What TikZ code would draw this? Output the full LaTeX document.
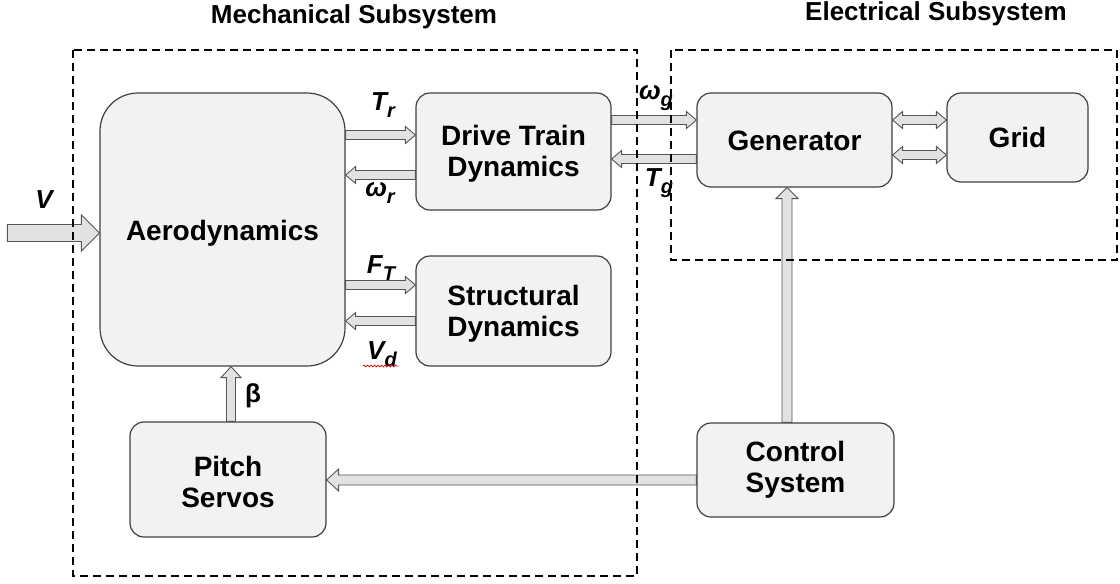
\documentclass[tikz,border=0pt]{standalone}
\usepackage{fontspec}
\setmainfont{Liberation Sans}
\usetikzlibrary{calc,decorations.pathmorphing}

\definecolor{boxfill}{HTML}{F2F2F2}
\definecolor{boxline}{HTML}{404040}
\definecolor{arfill}{HTML}{E2E2E2}
\definecolor{arline}{HTML}{555555}

\newcommand\boxfont{\fontsize{28}{31}\selectfont\bfseries}
% lower a line of text without changing its reported size
\newcommand\dn[2]{\raisebox{-#1}[\height][\depth]{#2}}
\newcommand\lbl[2]{\fontsize{26}{26}\selectfont\bfseries\itshape #1\raisebox{-7pt}{\fontsize{20}{20}\selectfont #2}}

% single-headed block arrow: start, tip, shaft half-width, head half-width, head length
\newcommand\sgl[5]{%
  \coordinate (ah) at ($(#2)!#5!(#1)$);
  \draw[blockar] ($(#1)!#3!90:(#2)$) -- ($(ah)!#3!90:(#2)$) -- ($(ah)!#4!90:(#2)$) -- (#2)
    -- ($(ah)!#4!-90:(#2)$) -- ($(ah)!#3!-90:(#2)$) -- ($(#1)!#3!-90:(#2)$) -- cycle;}
% double-headed block arrow
\newcommand\dbl[5]{%
  \coordinate (ha) at ($(#1)!#5!(#2)$);
  \coordinate (hb) at ($(#2)!#5!(#1)$);
  \draw[blockar] (#1) -- ($(ha)!#4!90:(#2)$) -- ($(ha)!#3!90:(#2)$) -- ($(hb)!#3!90:(#2)$)
    -- ($(hb)!#4!90:(#2)$) -- (#2) -- ($(hb)!#4!-90:(#2)$) -- ($(hb)!#3!-90:(#2)$)
    -- ($(ha)!#3!-90:(#2)$) -- ($(ha)!#4!-90:(#2)$) -- cycle;}

\tikzset{
  blk/.style={draw=boxline, fill=boxfill, line width=1.2pt, rounded corners=14pt,
    align=center, font=\boxfont, inner sep=0pt},
  blockar/.style={draw=arline, fill=arfill, line width=0.9pt, line join=miter},
  subsys/.style={draw=black, line width=2pt, dash pattern=on 8pt off 5pt},
  title/.style={font=\fontsize{26}{26}\selectfont\bfseries, inner sep=0pt},
  lab/.style={inner sep=0pt},
}

\begin{document}
\begin{tikzpicture}[x=1pt,y=-1pt]
\useasboundingbox (0,0) rectangle (1120,584);

% blocks
\node[blk, rounded corners=38pt, minimum width=245pt, minimum height=273pt] (aero) at (222.5,229.5) {\dn{4pt}{Aerodynamics}};
\node[blk, minimum width=195pt, minimum height=117pt] (drive) at (513.5,151.5) {\dn{2.5pt}{Drive Train}\\\dn{2.5pt}{Dynamics}};
\node[blk, minimum width=195pt, minimum height=110pt] (struct) at (513.5,311) {\dn{2.5pt}{Structural}\\\dn{2.5pt}{Dynamics}};
\node[blk, minimum width=195pt, minimum height=94pt] (gen) at (794.5,140) {\dn{1pt}{Generator}};
\node[blk, minimum width=141pt, minimum height=89pt] (grid) at (1017.5,137.5) {Grid};
\node[blk, minimum width=196pt, minimum height=115pt] (pitch) at (228,479.5) {\dn{2.5pt}{Pitch}\\\dn{2.5pt}{Servos}};
\node[blk, minimum width=197pt, minimum height=94pt] (ctrl) at (795.5,470) {Control\\System};

% connector end points
\coordinate (vB) at ($(aero.west)+(0,3.5)$);
\coordinate (vA) at ($(vB)+(-92,0)$);
\coordinate (trB) at ($(drive.west)+(0,-16.5)$);
\coordinate (trA) at (aero.east |- trB);
\coordinate (wrA) at ($(drive.west)+(0,23.5)$);
\coordinate (wrB) at (aero.east |- wrA);
\coordinate (wgA) at ($(drive.east)+(0,-31.5)$);
\coordinate (wgB) at (gen.west |- wgA);
\coordinate (tgA) at ($(gen.west)+(0,19)$);
\coordinate (tgB) at (drive.east |- tgA);
\coordinate (g1A) at ($(gen.east)+(0,-20)$);
\coordinate (g1B) at (grid.west |- g1A);
\coordinate (g2A) at ($(gen.east)+(0,15)$);
\coordinate (g2B) at (grid.west |- g2A);
\coordinate (ftB) at ($(struct.west)+(0,-26)$);
\coordinate (ftA) at (aero.east |- ftB);
\coordinate (vdA) at ($(struct.west)+(0,10)$);
\coordinate (vdB) at (aero.east |- vdA);
\coordinate (bA) at ($(pitch.north)+(3,0)$);
\coordinate (bB) at (bA |- aero.south);
\coordinate (cgA) at ($(ctrl.north)+(-8.5,0)$);
\coordinate (cgB) at (cgA |- gen.south);
\coordinate (cpA) at ($(ctrl.west)+(0,10)$);
\coordinate (cpB) at (pitch.east |- cpA);

% connectors
\sgl{vA}{vB}{8.5pt}{18pt}{18pt}
\sgl{trA}{trB}{4.5pt}{8.5pt}{10pt}
\sgl{wrA}{wrB}{4.5pt}{8.5pt}{10pt}
\sgl{wgA}{wgB}{4.5pt}{8.5pt}{10pt}
\sgl{tgA}{tgB}{4.5pt}{8.5pt}{10pt}
\dbl{g1A}{g1B}{4.5pt}{8.5pt}{10pt}
\dbl{g2A}{g2B}{4.5pt}{8.5pt}{10pt}
\sgl{ftA}{ftB}{4.5pt}{8.5pt}{10pt}
\sgl{vdA}{vdB}{4.5pt}{8.5pt}{10pt}
\sgl{bA}{bB}{4.5pt}{10pt}{11pt}
\sgl{cgA}{cgB}{5pt}{11pt}{11pt}
\sgl{cpA}{cpB}{5pt}{11pt}{12pt}

% signal labels
\node[lab] (lV) at (44,200) {\fontsize{26}{26}\selectfont\bfseries\itshape V};
\node[lab] (lTr) at (383,105) {\lbl{T}{r}};
\node[lab] (lWr) at (380,193) {\lbl{ω}{r}};
\node[lab] (lWg) at (656,98) {\lbl{ω}{g}};
\node[lab] (lTg) at (659,183) {\lbl{T}{g}};
\node[lab] (lFt) at (381,268) {\lbl{F}{T}};
\node[lab] (lVd) at (382,354) {\lbl{V}{d}};
\node[lab] (lB) at (253,396) {\fontsize{26}{26}\selectfont\bfseries β};
\draw[red!85!black, line width=0.7pt, decorate, decoration={snake, amplitude=0.9pt, segment length=3.5pt}]
  ($(lVd.center)+(-19,12)$) -- ($(lVd.center)+(16,12)$);

% subsystem frames
\draw[subsys] (73,50) rectangle (637,576);
\draw[subsys] (671,50) rectangle (1117,260);
\node[title] (tMech) at (354,17) {Mechanical Subsystem};
\node[title] (tElec) at (936,14) {Electrical Subsystem};
\end{tikzpicture}
\end{document}
